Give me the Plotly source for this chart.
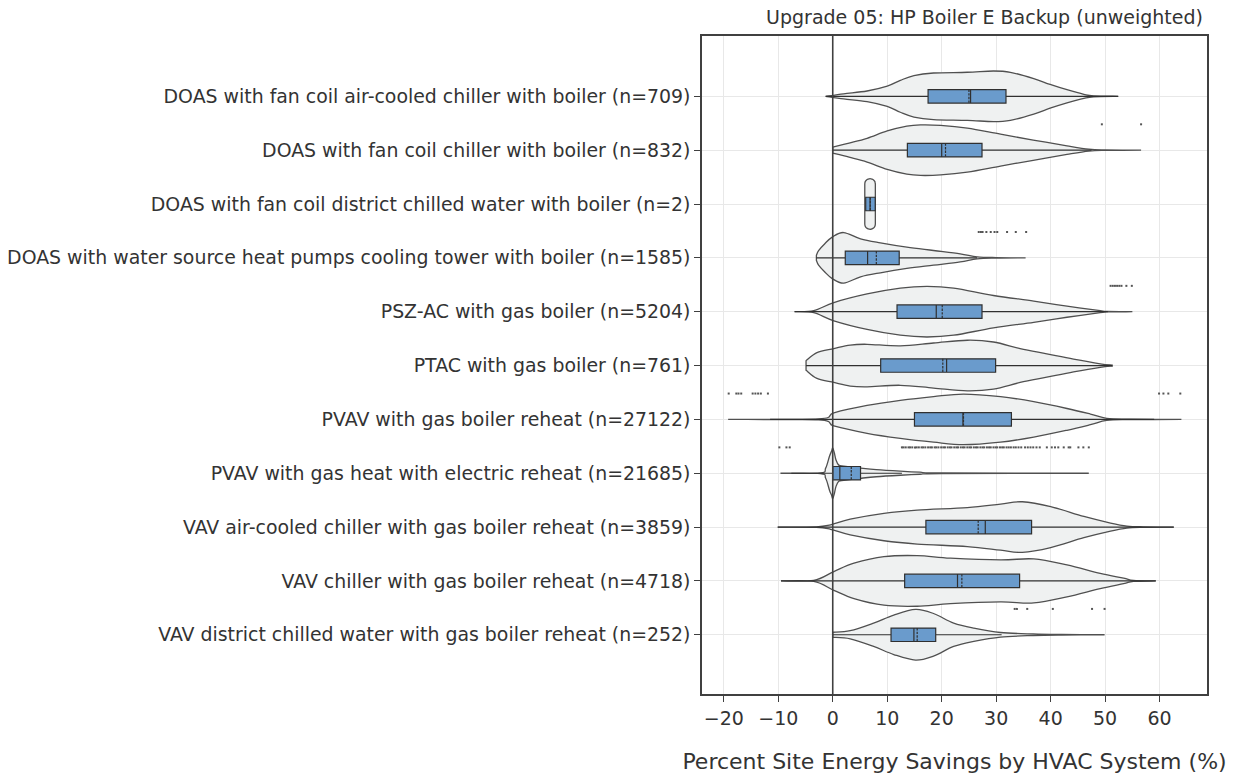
import plotly.graph_objects as go

# ---------------- data ----------------
categories = [
    "DOAS with fan coil air-cooled chiller with boiler (n=709)",
    "DOAS with fan coil chiller with boiler (n=832)",
    "DOAS with fan coil district chilled water with boiler (n=2)",
    "DOAS with water source heat pumps cooling tower with boiler (n=1585)",
    "PSZ-AC with gas boiler (n=5204)",
    "PTAC with gas boiler (n=761)",
    "PVAV with gas boiler reheat (n=27122)",
    "PVAV with gas heat with electric reheat (n=21685)",
    "VAV air-cooled chiller with gas boiler reheat (n=3859)",
    "VAV chiller with gas boiler reheat (n=4718)",
    "VAV district chilled water with gas boiler reheat (n=252)",
]

# box statistics (percent savings)
q1 = [17.5, 13.7, 6.05, 2.3, 11.8, 8.8, 15.0, 0.0, 17.1, 13.2, 10.7]
median = [25.3, 20.0, 6.85, 6.4, 19.0, 20.9, 23.9, 1.3, 28.0, 22.9, 14.9]
mean = [25.0, 20.7, 6.9, 8.0, 20.1, 20.2, 24.0, 3.4, 26.7, 23.7, 15.5]
q3 = [31.8, 27.4, 7.8, 12.2, 27.4, 29.9, 32.8, 5.1, 36.5, 34.3, 18.9]
lowerfence = [-1.3, 0.0, 6.05, -3.0, -7.0, -4.9, -11.5, -7.6, -10.1, -9.5, 0.0]
upperfence = [52.4, 47.5, 7.8, 26.5, 50.5, 51.3, 59.0, 12.7, 62.6, 59.3, 31.0]

# violin outlines: x positions and relative half-widths (density)
violin_x = [
    [-1.3, 2.0, 6.3, 10.0, 12.4, 14.9, 18.5, 24.7, 29.5, 32.6, 36.9, 39.9, 43.0, 46.1, 47.9, 52.4],
    [0.0, 3.0, 6.3, 10.0, 13.6, 16.1, 19.8, 24.7, 30.8, 36.8, 43.0, 47.0, 50.0, 56.6],
    [5.88, 5.93, 6.02, 6.21, 6.48, 6.85, 7.22, 7.49, 7.68, 7.77, 7.82],
    [-3.0, -2.6, -1.5, -0.1, 2.0, 5.1, 8.75, 13.6, 18.5, 23.4, 26.5, 30.0, 35.4],
    [-7.0, -3.5, 0.2, 6.3, 12.4, 17.3, 22.2, 29.5, 36.9, 43.0, 49.1, 50.3, 55.0],
    [-4.9, -2.9, 0.2, 3.2, 6.3, 12.4, 18.5, 24.7, 29.5, 34.4, 39.3, 44.2, 49.1, 51.3],
    [-19.2, -2.6, 0.2, 6.3, 12.4, 18.5, 24.0, 30.8, 36.9, 43.0, 47.3, 50.3, 54.6, 64.0],
    [-9.6, -2.3, -1.3, -0.6, -0.2, 0.0, 0.3, 0.6, 1.1, 2.0, 3.5, 5.1, 8.0, 12.4, 16.0, 20.0, 47.0],
    [-10.1, -3.0, -0.4, 3.2, 9.4, 15.5, 24.7, 30.8, 34.8, 40.0, 46.1, 51.0, 54.0, 57.0, 62.6],
    [-9.5, -3.5, 0.2, 3.9, 9.4, 15.5, 21.6, 30.8, 36.9, 43.0, 49.1, 53.4, 55.2, 59.3],
    [0.0, 3.2, 7.5, 11.2, 15.2, 18.5, 22.2, 25.9, 30.8, 36.8, 42.0, 49.9],
]
violin_w = [
    [0, 0.1, 0.21, 0.4, 0.63, 0.82, 0.92, 0.95, 1.0, 0.95, 0.7, 0.47, 0.26, 0.08, 0.02, 0],
    [0.12, 0.28, 0.47, 0.76, 0.95, 1.0, 0.98, 0.87, 0.63, 0.4, 0.17, 0.04, 0.01, 0],
    [0.79, 0.86, 0.9, 0.95, 0.98, 1.0, 0.98, 0.95, 0.9, 0.86, 0.79],
    [0.1, 0.29, 0.55, 0.82, 1.0, 0.75, 0.59, 0.42, 0.29, 0.16, 0.04, 0.01, 0],
    [0, 0.04, 0.36, 0.7, 0.93, 1.0, 0.93, 0.64, 0.42, 0.22, 0.04, 0.01, 0],
    [0.19, 0.51, 0.67, 0.81, 0.84, 0.78, 0.89, 1.0, 0.93, 0.67, 0.46, 0.25, 0.07, 0.02],
    [0, 0.02, 0.26, 0.55, 0.75, 0.9, 1.0, 0.9, 0.7, 0.43, 0.21, 0.04, 0.01, 0],
    [0, 0.01, 0.2, 0.67, 0.88, 1.0, 0.8, 0.52, 0.32, 0.28, 0.24, 0.2, 0.14, 0.08, 0.04, 0.01, 0],
    [0, 0.01, 0.09, 0.31, 0.54, 0.67, 0.77, 0.91, 1.0, 0.81, 0.42, 0.16, 0.04, 0.01, 0],
    [0, 0.02, 0.37, 0.7, 0.96, 1.0, 0.9, 0.83, 0.87, 0.63, 0.3, 0.11, 0.02, 0],
    [0.1, 0.16, 0.46, 0.78, 1.0, 0.84, 0.46, 0.26, 0.09, 0.03, 0.01, 0],
]

# outliers per category
outliers = [
    [],
    [49.4, 56.6],
    [],
    [26.8, 27.2, 27.5, 28.2, 29.0, 29.7, 30.2, 32.0, 33.6, 35.5],
    [51.0, 51.4, 51.8, 52.2, 52.6, 53.0, 53.9, 54.9],
    [],
    [-19.1, -17.7, -17.3, -16.8, -14.7, -14.2, -13.7, -13.2, -11.9, 59.9, 60.7, 61.6, 63.8],
    [-9.8, -8.5, -7.9,
     12.7, 13.0, 13.4, 13.9, 14.2, 14.6, 15.1, 15.4, 15.8, 16.3, 16.6, 17.0, 17.5, 17.9,
     18.2, 18.7, 19.0, 19.4, 19.9, 20.3, 20.6, 21.1, 21.5, 21.8, 22.3, 22.7, 23.0, 23.5,
     23.9, 24.2, 24.7, 25.1, 25.4, 25.9, 26.3, 26.6, 27.1, 27.5, 27.8, 28.3, 28.7, 29.0,
     29.5, 29.9, 30.2, 30.7, 31.1, 31.4, 31.9, 32.3, 32.7, 33.2, 33.6, 34.1, 34.6,
     35.3, 35.8, 36.3, 36.8, 37.4, 38.0, 39.3, 40.2, 40.8, 41.4, 42.4, 43.3, 43.6,
     45.1, 46.0, 47.0],
    [],
    [],
    [33.4, 33.8, 35.7, 40.4, 47.6, 49.9],
]

x_ticks = [-20, -10, 0, 10, 20, 30, 40, 50, 60]
title_text = "Upgrade 05: HP Boiler E Backup (unweighted)"
x_title = "Percent Site Energy Savings by HVAC System (%)"

# ---------------- styling ----------------
FONT = "DejaVu Sans"
VIOLIN_HALF = 0.47
OUTLIER_OFFSET = 0.48
violin_fill = "#eff1f1"
violin_line = "#505050"
box_fill = "#6a9bcc"
dark = "#404040"
text_col = "#333333"


def smooth_path(pts):
    """Catmull-Rom -> cubic bezier path segments through data points."""
    segs = []
    n = len(pts)
    for k in range(n - 1):
        p0 = pts[k - 1] if k > 0 else pts[k]
        p1 = pts[k]
        p2 = pts[k + 1]
        p3 = pts[k + 2] if k + 2 < n else pts[k + 1]
        c1 = (p1[0] + (p2[0] - p0[0]) / 6, p1[1] + (p2[1] - p0[1]) / 6)
        c2 = (p2[0] - (p3[0] - p1[0]) / 6, p2[1] - (p3[1] - p1[1]) / 6)
        segs.append(f"C{c1[0]:.4f},{c1[1]:.4f} {c2[0]:.4f},{c2[1]:.4f} {p2[0]:.4f},{p2[1]:.4f}")
    return " ".join(segs)


fig = go.Figure()

for i, (vx, vw) in enumerate(zip(violin_x, violin_w)):
    upper = [(x, i - w * VIOLIN_HALF) for x, w in zip(vx, vw)]
    lower = [(x, i + w * VIOLIN_HALF) for x, w in zip(vx[::-1], vw[::-1])]
    path = (f"M{upper[0][0]:.4f},{upper[0][1]:.4f} " + smooth_path(upper)
            + f" L{lower[0][0]:.4f},{lower[0][1]:.4f} " + smooth_path(lower) + " Z")
    fig.add_shape(type="path", path=path, xref="x", yref="y",
                  fillcolor=violin_fill, line=dict(color=violin_line, width=1.3),
                  layer="between")

fig.add_trace(go.Box(
    y=list(range(len(categories))),
    q1=q1, median=median, mean=mean, q3=q3,
    lowerfence=lowerfence, upperfence=upperfence,
    orientation="h", boxmean=True, width=0.25, whiskerwidth=0,
    fillcolor=box_fill, line=dict(color="#303030", width=1.2),
    boxpoints=False, showlegend=False,
))

ox, oy = [], []
for i, vals in enumerate(outliers):
    for v in vals:
        ox.append(v)
        oy.append(i - OUTLIER_OFFSET)
fig.add_trace(go.Scatter(
    x=ox, y=oy, mode="markers",
    marker=dict(symbol="square", size=2, color="#555555", line=dict(width=0)),
    showlegend=False, hoverinfo="skip",
))

fig.add_shape(type="line", xref="x", yref="paper", x0=0, x1=0, y0=0, y1=1,
              line=dict(color=dark, width=1.6), layer="above")

fig.update_layout(
    width=1242, height=774,
    margin=dict(l=702, r=35, t=36, b=80, autoexpand=False),
    paper_bgcolor="white", plot_bgcolor="white",
    font=dict(family=FONT, size=18.9, color=text_col),
    title=dict(text=title_text, x=0.992, xref="paper", xanchor="right",
               y=1 - 17 / 774, yref="container", yanchor="middle",
               font=dict(family=FONT, size=19, color=text_col)),
    showlegend=False,
)
fig.update_xaxes(
    range=[-24.0, 68.7], tickvals=x_ticks,
    showgrid=True, gridcolor="#e8e8e8", gridwidth=1,
    zeroline=False,
    showline=True, linecolor=dark, linewidth=1.5, mirror=True,
    ticks="outside", ticklen=6, tickcolor=dark, tickwidth=1.3,
    tickfont=dict(family=FONT, size=19, color=text_col),
    title=dict(text=x_title, standoff=26, font=dict(family=FONT, size=22, color=text_col)),
)
fig.update_yaxes(
    range=[11.1, -1.12], tickvals=list(range(len(categories))), ticktext=categories,
    showgrid=True, gridcolor="#e8e8e8", gridwidth=1,
    zeroline=False,
    showline=True, linecolor=dark, linewidth=1.5, mirror=True,
    ticks="outside", ticklen=6, tickcolor=dark, tickwidth=1.3,
    tickfont=dict(family=FONT, size=18.9, color=text_col),
)

# remove the browser's default 8px page margin so the figure sits at (0, 0)
fig.write_html("out.html", config={"displayModeBar": False},
               post_script="document.body.style.margin='0';")
